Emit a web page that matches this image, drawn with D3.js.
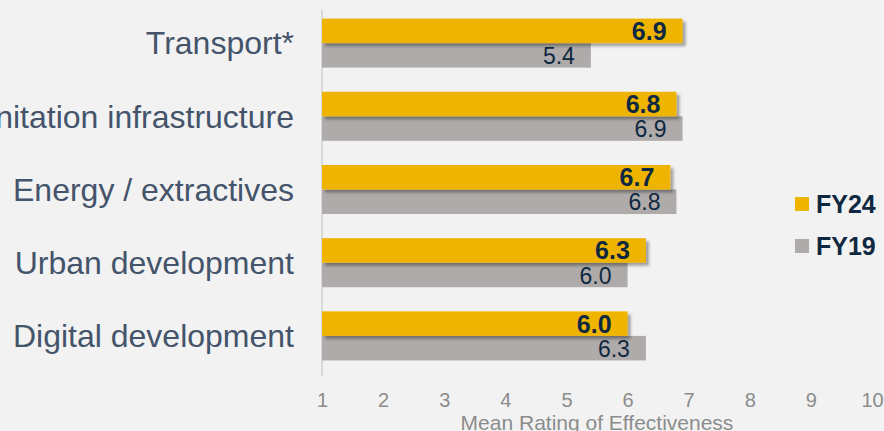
<!DOCTYPE html>
<html lang="en">
  <head>
    <meta charset="UTF-8" />
    <title>Mean Rating of Effectiveness</title>
    <style>
      html, body { margin: 0; padding: 0; background: #f2f2f2; }
      svg { display: block; font-family: "Liberation Sans", Arial, sans-serif; }
    </style>
    <script src="https://cdn.jsdelivr.net/npm/d3@7"></script>
  </head>
  <body>
    <script>
      const categories = [
        "Transport*",
        "Water / sanitation infrastructure",
        "Energy / extractives",
        "Urban development",
        "Digital development",
      ];
      const series = ["FY24", "FY19"];
      const fy24 = [6.9, 6.8, 6.7, 6.3, 6.0];
      const fy19 = [5.4, 6.9, 6.8, 6.0, 6.3];
      const ticks = [1, 2, 3, 4, 5, 6, 7, 8, 9, 10];

      const width = 884, height = 431;
      const colors = { FY24: "#eeb400", FY19: "#afabab" };

      const svg = d3.select(document.body).append("svg")
        .attr("width", width).attr("height", height);

      const defs = svg.append("defs");
      defs.append("filter").attr("id", "shadow")
        .attr("x", "-5%").attr("y", "-20%").attr("width", "115%").attr("height", "160%")
        .append("feDropShadow")
        .attr("dx", 3).attr("dy", 3).attr("stdDeviation", 1.8)
        .attr("flood-color", "#000").attr("flood-opacity", 0.35);

      const x = d3.scaleLinear().domain([1, 10]).range([322, 872]);
      const y = d3.scaleBand().domain(categories).range([6.5, 372.5])
        .paddingInner(0.33).paddingOuter(0.165);
      const ySub = d3.scaleBand().domain(series).range([0, y.bandwidth()]);

      // vertical axis line
      svg.append("line")
        .attr("x1", x(1)).attr("x2", x(1))
        .attr("y1", 10).attr("y2", 376)
        .attr("stroke", "#d9d9d9").attr("stroke-width", 2);

      // category labels
      svg.append("g").selectAll("text").data(categories).join("text")
        .attr("x", 294)
        .attr("y", (d) => y(d) + y.bandwidth() / 2)
        .attr("dy", "0.35em")
        .attr("text-anchor", "end")
        .attr("font-size", 32)
        .attr("fill", "#44546a")
        .text((d) => d);

      const rows = categories.map((c, i) => ({ c, FY24: fy24[i], FY19: fy19[i] }));

      const groups = svg.append("g").selectAll("g").data(rows).join("g")
        .attr("transform", (d) => `translate(0,${y(d.c)})`);

      // FY19 drawn first, FY24 on top with shadow
      groups.append("rect")
        .attr("x", x(1))
        .attr("y", ySub("FY19"))
        .attr("width", (d) => x(d.FY19) - x(1))
        .attr("height", ySub.bandwidth())
        .attr("fill", colors.FY19);

      groups.append("rect")
        .attr("x", x(1))
        .attr("y", ySub("FY24"))
        .attr("width", (d) => x(d.FY24) - x(1))
        .attr("height", ySub.bandwidth())
        .attr("fill", colors.FY24)
        .attr("filter", "url(#shadow)");

      groups.append("text")
        .attr("x", (d) => x(d.FY24) - 16)
        .attr("y", ySub("FY24") + ySub.bandwidth() / 2)
        .attr("dy", "0.36em")
        .attr("text-anchor", "end")
        .attr("font-size", 25)
        .attr("font-weight", "bold")
        .attr("fill", "#0e2841")
        .text((d) => d.FY24.toFixed(1));

      groups.append("text")
        .attr("x", (d) => x(d.FY19) - 16)
        .attr("y", ySub("FY19") + ySub.bandwidth() / 2)
        .attr("dy", "0.38em")
        .attr("text-anchor", "end")
        .attr("font-size", 23)
        .attr("fill", "#0e2841")
        .text((d) => d.FY19.toFixed(1));

      // x axis ticks
      const axis = svg.append("g")
        .attr("transform", "translate(0,407)")
        .call(d3.axisBottom(x).tickValues(ticks).tickSize(0).tickPadding(0));
      axis.select(".domain").remove();
      axis.selectAll("text")
        .attr("y", 0).attr("dy", 0)
        .attr("font-family", "Liberation Sans, Arial, sans-serif")
        .attr("font-size", 20)
        .attr("fill", "#8c8c8c");

      svg.append("text")
        .attr("x", (x(1) + x(10)) / 2)
        .attr("y", 430)
        .attr("text-anchor", "middle")
        .attr("font-size", 21)
        .attr("fill", "#8c8c8c")
        .text("Mean Rating of Effectiveness");

      // legend
      const legend = svg.append("g").attr("transform", "translate(795,204)");
      const li = legend.selectAll("g").data(series).join("g")
        .attr("transform", (d, i) => `translate(0,${i * 42})`);
      li.append("rect")
        .attr("x", 0).attr("y", -7).attr("width", 14).attr("height", 14)
        .attr("fill", (d) => colors[d]);
      li.append("text")
        .attr("x", 21).attr("dy", "0.36em")
        .attr("font-size", 25).attr("font-weight", "bold")
        .attr("fill", "#0e2841")
        .text((d) => d);
    </script>
  </body>
</html>
